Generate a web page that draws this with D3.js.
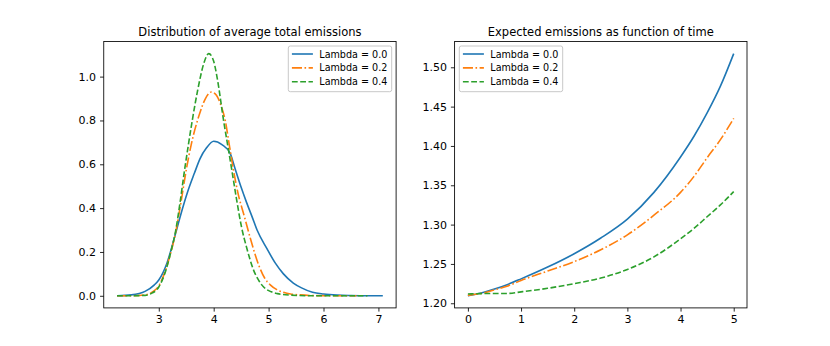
<!DOCTYPE html>
<html>
<head>
<meta charset="utf-8">
<script src="https://cdn.jsdelivr.net/npm/d3@7"></script>
<style>
  body { margin: 0; background: #fff; }
  svg { font-family: "DejaVu Sans", sans-serif; }
</style>
</head>
<body>
<svg id="chart" width="830" height="346"></svg>
<script>
// --- data: left panel (density of average total emissions) ---
var distX0 = [2.24, 2.5, 2.75, 2.92, 3.0, 3.15, 3.29, 3.4, 3.52, 3.65, 3.75, 3.87, 4.0, 4.15, 4.3, 4.39, 4.5, 4.6, 4.7, 4.79, 4.97, 5.12, 5.27, 5.45, 5.6, 5.8, 6.0, 6.25, 6.5, 6.8, 7.08];
var distY0 = [0.0, 0.004, 0.02, 0.05, 0.072, 0.15, 0.27, 0.37, 0.47, 0.56, 0.625, 0.675, 0.705, 0.69, 0.65, 0.58, 0.495, 0.425, 0.36, 0.30, 0.215, 0.15, 0.10, 0.058, 0.036, 0.016, 0.008, 0.003, 0.001, 0.0, 0.0];

var distX1 = [2.24, 2.5, 2.75, 2.9, 3.0, 3.1, 3.2, 3.3, 3.4, 3.5, 3.6, 3.73, 3.85, 3.96, 4.05, 4.13, 4.21, 4.29, 4.36, 4.45, 4.55, 4.67, 4.82, 4.93, 5.03, 5.15, 5.27, 5.4, 5.57, 5.8, 6.1, 6.6];
var distY1 = [0.0, 0.0, 0.004, 0.02, 0.045, 0.1, 0.18, 0.28, 0.42, 0.574, 0.7, 0.82, 0.9, 0.93, 0.915, 0.87, 0.8, 0.68, 0.574, 0.46, 0.37, 0.26, 0.14, 0.08, 0.05, 0.028, 0.016, 0.008, 0.004, 0.001, 0.0, 0.0];

var distX2 = [2.24, 2.5, 2.75, 2.86, 3.0, 3.13, 3.22, 3.31, 3.39, 3.47, 3.54, 3.61, 3.71, 3.82, 3.91, 4.0, 4.07, 4.18, 4.26, 4.33, 4.41, 4.51, 4.6, 4.73, 4.82, 4.91, 5.05, 5.16, 5.4, 5.8, 6.8];
var distY2 = [0.0, 0.0, 0.002, 0.01, 0.04, 0.117, 0.2, 0.3, 0.43, 0.574, 0.69, 0.8, 0.94, 1.06, 1.105, 1.07, 0.985, 0.8, 0.68, 0.574, 0.45, 0.31, 0.22, 0.115, 0.07, 0.04, 0.018, 0.01, 0.003, 0.0, 0.0];

// --- data: right panel (expected emissions vs time) ---
var timeX = [0, 0.25, 0.5, 0.75, 1, 1.5, 2, 2.5, 3, 3.5, 4, 4.25, 4.5, 4.75, 5];
var expY0 = [1.2095, 1.213, 1.218, 1.224, 1.231, 1.246, 1.263, 1.283, 1.307, 1.341, 1.386, 1.412, 1.442, 1.476, 1.5174];
var expY1 = [1.2100, 1.2125, 1.217, 1.222, 1.229, 1.241, 1.253, 1.268, 1.287, 1.312, 1.341, 1.361, 1.385, 1.408, 1.435];
var expY2 = [1.2118, 1.2123, 1.2125, 1.2125, 1.2145, 1.219, 1.225, 1.232, 1.243, 1.259, 1.282, 1.295, 1.310, 1.325, 1.342];

var labels = ["Lambda = 0.0", "Lambda = 0.2", "Lambda = 0.4"];
var colors = ["#1f77b4", "#ff7f0e", "#2ca02c"];
var dashes = [null, "10.1,2.5,1.6,2.5", "5.8,2.5"];

var leftTicksX = [3, 4, 5, 6, 7];
var leftTicksY = [0, 0.2, 0.4, 0.6, 0.8, 1.0];
var rightTicksX = [0, 1, 2, 3, 4, 5];
var rightTicksY = [1.20, 1.25, 1.30, 1.35, 1.40, 1.45, 1.50];

var svg = d3.select("#chart");

// matplotlib-like 5% margins
function padded(vals) {
    var e = d3.extent(vals);
    var p = (e[1] - e[0]) * 0.05;
    return [e[0] - p, e[1] + p];
}

function drawPanel(opts) {
    var g = svg.append("g");
    var x = d3.scaleLinear().domain(padded(opts.allX)).range([opts.x0, opts.x1]);
    var y = d3.scaleLinear().domain(padded(opts.allY)).range([opts.y1, opts.y0]);

    var line = d3.line()
        .x(d => x(d[0]))
        .y(d => y(d[1]))
        .curve(d3.curveMonotoneX);

    opts.series.forEach(function (s, i) {
        g.append("path")
            .datum(s.xs.map((v, k) => [v, s.ys[k]]))
            .attr("d", line)
            .attr("fill", "none")
            .attr("stroke", colors[i])
            .attr("stroke-width", 1.6)
            .attr("stroke-dasharray", dashes[i]);
    });

    // axes
    var xa = g.append("g").attr("transform", "translate(0," + opts.y1 + ")")
        .call(d3.axisBottom(x).tickValues(opts.ticksX).tickFormat(d3.format("d")).tickSize(3.7).tickPadding(4).tickSizeOuter(0));
    var ya = g.append("g").attr("transform", "translate(" + opts.x0 + ",0)")
        .call(d3.axisLeft(y).tickValues(opts.ticksY).tickFormat(d3.format(opts.yFmt)).tickSize(3.7).tickPadding(4).tickSizeOuter(0));
    [xa, ya].forEach(function (a) {
        a.select(".domain").remove();
        a.selectAll("line").attr("stroke", "#000").attr("stroke-width", 0.85);
        a.selectAll("text").attr("font-size", 11).attr("fill", "#000")
            .attr("font-family", "DejaVu Sans, sans-serif");
    });

    // frame
    g.append("rect")
        .attr("x", opts.x0).attr("y", opts.y0)
        .attr("width", opts.x1 - opts.x0).attr("height", opts.y1 - opts.y0)
        .attr("fill", "none").attr("stroke", "#000").attr("stroke-width", 0.85);

    // title
    g.append("text")
        .attr("x", (opts.x0 + opts.x1) / 2).attr("y", opts.y0 - 6)
        .attr("text-anchor", "middle").attr("font-size", 11.5)
        .text(opts.title);

    // legend
    var lg = g.append("g").attr("transform", "translate(" + opts.legX + "," + (opts.y0 + 4.5) + ")");
    lg.append("rect")
        .attr("width", 103.4).attr("height", 45.7).attr("rx", 2)
        .attr("fill", "#fff").attr("fill-opacity", 0.8)
        .attr("stroke", "#c8c8c8").attr("stroke-width", 1);
    labels.forEach(function (lab, i) {
        var ry = 8 + i * 13.85;
        lg.append("line")
            .attr("x1", 3.6).attr("x2", 24.6).attr("y1", ry).attr("y2", ry)
            .attr("stroke", colors[i]).attr("stroke-width", 1.6)
            .attr("stroke-dasharray", dashes[i]);
        lg.append("text")
            .attr("x", 31).attr("y", ry + 3.6)
            .attr("font-size", 9.6)
            .text(lab);
    });
}

drawPanel({
    x0: 103.75, x1: 396.1, y0: 41.5, y1: 307.9,
    allX: distX0.concat(distX1, distX2),
    allY: distY0.concat(distY1, distY2),
    series: [{xs: distX0, ys: distY0}, {xs: distX1, ys: distY1}, {xs: distX2, ys: distY2}],
    ticksX: leftTicksX, ticksY: leftTicksY, yFmt: ".1f",
    title: "Distribution of average total emissions",
    legX: 288.3
});

drawPanel({
    x0: 454.6, x1: 747, y0: 41.5, y1: 307.9,
    allX: timeX,
    allY: expY0.concat(expY1, expY2),
    series: [{xs: timeX, ys: expY0}, {xs: timeX, ys: expY1}, {xs: timeX, ys: expY2}],
    ticksX: rightTicksX, ticksY: rightTicksY, yFmt: ".2f",
    title: "Expected emissions as function of time",
    legX: 459.3
});
</script>
</body>
</html>
